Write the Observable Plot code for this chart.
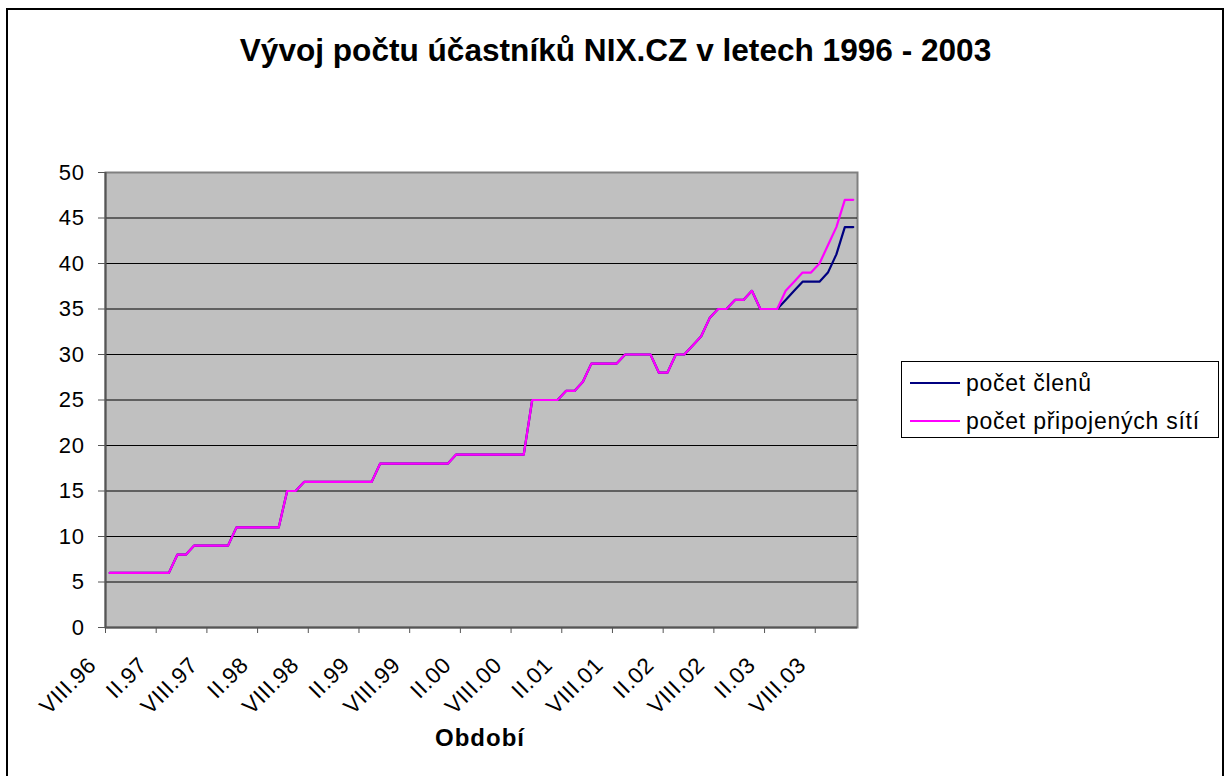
<!DOCTYPE html>
<html>
<head>
<meta charset="utf-8">
<script src="https://cdn.jsdelivr.net/npm/d3@7"></script>
<script src="https://cdn.jsdelivr.net/npm/@observablehq/plot@0.6"></script>
<style>
  html, body { margin: 0; padding: 0; background: #fff; }
  #wrap { position: relative; width: 1231px; height: 776px; overflow: hidden; font-family: "Liberation Sans", Arial, sans-serif; }
  #border { position: absolute; left: 6px; top: 8px; width: 1218px; height: 800px; border: 2px solid #000; box-sizing: border-box; }
  #title { position: absolute; left: 7px; width: 1217px; top: 32px; text-align: center; font-weight: bold; font-size: 31.6px; color: #000; white-space: nowrap; }
  #xlabel { position: absolute; left: 380px; width: 200px; top: 724px; text-align: center; font-weight: bold; font-size: 24px; letter-spacing: 1px; color: #000; }
  #legend { position: absolute; left: 901px; top: 361px; width: 318px; height: 77px; border: 1px solid #000; box-sizing: border-box; background: #fff; }
  .row { position: absolute; left: 8px; height: 26px; display: flex; align-items: center; font-size: 23px; letter-spacing: 0.75px; white-space: nowrap; }
  .swatch { width: 50px; height: 0; border-top: 2px solid; margin-right: 6px; }
  #chart { position: absolute; left: 0; top: 0; }
  #chart svg text { letter-spacing: 0.6px; }
</style>
</head>
<body>
<div id="wrap">
  <div id="chart"></div>
  <div id="border"></div>
  <div id="title"></div>
  <div id="xlabel"></div>
  <div id="legend"></div>
</div>
<script>
// ---- data ----
const title = "Vývoj počtu účastníků NIX.CZ v letech 1996 - 2003";
const xTitle = "Období";
const seriesNames = ["počet členů", "počet připojených sítí"];
const seriesColors = ["#000080", "#FF00FF"];

// monthly categories VIII.96 ... XII.03
const romanMonths = ["I","II","III","IV","V","VI","VII","VIII","IX","X","XI","XII"];
const startYear = 1996, startMonth = 8, nMonths = 89;

// tick labels (every 6th category)
const tickLabels = ["VIII.96","II.97","VIII.97","II.98","VIII.98","II.99","VIII.99","II.00","VIII.00","II.01","VIII.01","II.02","VIII.02","II.03","VIII.03"];
const yTicks = [0,5,10,15,20,25,30,35,40,45,50];

// počet připojených sítí (magenta)
const networks = [
  6,6,6,6,6,6,6,6, 8,8, 9,9,9,9,9, 11,11,11,11,11,11, 15,15,
  16,16,16,16,16,16,16,16,16, 18,18,18,18,18,18,18,18,18,
  19,19,19,19,19,19,19,19,19, 25,25,25,25, 26,26, 27,
  29,29,29,29, 30,30,30,30, 28,28, 30,30, 31, 32, 34, 35,35, 36,36, 37,
  35,35,35, 37, 38, 39,39, 40, 42, 44, 47,47
];
// počet členů (navy)
const members = [
  6,6,6,6,6,6,6,6, 8,8, 9,9,9,9,9, 11,11,11,11,11,11, 15,15,
  16,16,16,16,16,16,16,16,16, 18,18,18,18,18,18,18,18,18,
  19,19,19,19,19,19,19,19,19, 25,25,25,25, 26,26, 27,
  29,29,29,29, 30,30,30,30, 28,28, 30,30, 31, 32, 34, 35,35, 36,36, 37,
  35,35,35, 36, 37, 38,38, 38, 39, 41, 44,44
];

// ---- build table ----
const periods = d3.range(nMonths).map(i => {
  const m = (startMonth - 1 + i) % 12;
  const y = startYear + Math.floor((startMonth - 1 + i) / 12);
  return romanMonths[m] + "." + String(y % 100).padStart(2, "0");
});
const rows = [];
periods.forEach((p, i) => {
  rows.push({period: p, idx: i + 0.5, value: members[i], series: seriesNames[0]});
});
periods.forEach((p, i) => {
  rows.push({period: p, idx: i + 0.5, value: networks[i], series: seriesNames[1]});
});
const xTickPos = tickLabels.map(l => periods.indexOf(l));
const tickMap = new Map(xTickPos.map((p, k) => [p, tickLabels[k]]));

const chart = Plot.plot({
  width: 1231,
  height: 776,
  marginLeft: 105,
  marginRight: 374,
  marginTop: 172,
  marginBottom: 149,
  style: {background: "transparent", fontFamily: "'Liberation Sans', Arial, sans-serif", color: "#000"},
  x: {type: "linear", domain: [0, nMonths], axis: null, label: null},
  y: {domain: [0, 50], axis: null, label: null},
  color: {domain: seriesNames, range: seriesColors},
  marks: [
    Plot.frame({fill: "#c0c0c0", stroke: "#808080", strokeWidth: 2}),
    Plot.ruleY(yTicks.filter(v => v > 0 && v < 50), {stroke: "#000", strokeWidth: 1}),
    Plot.ruleX([0], {stroke: "#555", strokeWidth: 2}),
    Plot.ruleY([0], {stroke: "#555", strokeWidth: 2}),
    Plot.axisY({ticks: yTicks, label: null, tickSize: 7, tickPadding: 14, fontSize: 22, stroke: "#555", tickFormat: d => String(d)}),
    // x tick marks
    Plot.axisX({ticks: xTickPos, label: null, tickSize: 6, stroke: "#555", tickFormat: () => ""}),
    // x tick labels
    Plot.axisX({ticks: xTickPos, label: null, tickSize: 0, tickPadding: 34, tickRotate: -45, fontSize: 22.5, tickFormat: d => tickMap.get(d), dx: -13}),
    Plot.line(rows, {x: "idx", y: "value", z: "series", stroke: "series", strokeWidth: 2.2, curve: "linear"})
  ]
});
document.getElementById("chart").appendChild(chart);

document.getElementById("title").textContent = title;
document.getElementById("xlabel").textContent = xTitle;
const legend = document.getElementById("legend");
seriesNames.forEach((name, k) => {
  const row = document.createElement("div");
  row.className = "row";
  row.style.top = (8 + k * 38) + "px";
  const sw = document.createElement("div");
  sw.className = "swatch";
  sw.style.borderTopColor = seriesColors[k];
  const t = document.createElement("span");
  t.textContent = name;
  row.appendChild(sw);
  row.appendChild(t);
  legend.appendChild(row);
});
</script>
</body>
</html>
